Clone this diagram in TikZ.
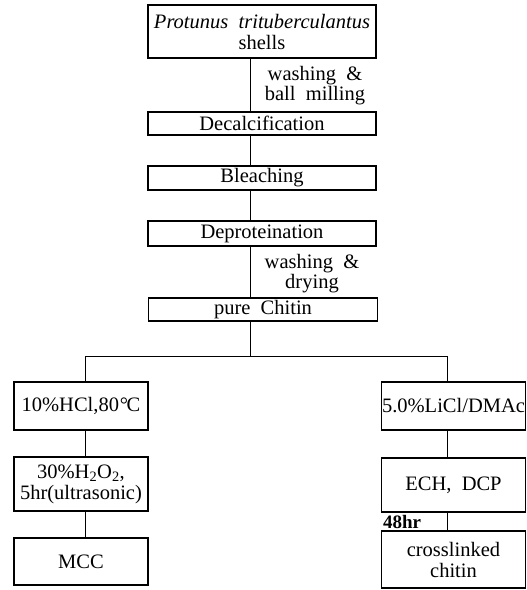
\documentclass[tikz,border=0pt]{standalone}
\usepackage{fontspec}
\setmainfont{Liberation Serif}
\begin{document}
\begin{tikzpicture}[x=1pt,y=-1pt,
  box/.style={draw, line width=1.6pt, inner sep=0pt, align=center,
    font=\fontsize{20.5}{21}\selectfont},
  conn/.style={line width=0.7pt},
  lbl/.style={inner sep=0pt, align=center, font=\fontsize{20.5}{20}\selectfont}]
\useasboundingbox (0,0) rectangle (527,590);
% main column
\node[box, minimum width=228pt, minimum height=53pt] (top) at (262,31.5)
  {{\itshape Protunus\ \ trituberculantus}\\shells};
\node[box, minimum width=228pt, minimum height=23pt] (decal) at (262,123.5) {Decalcification};
\node[box, minimum width=228pt, minimum height=24pt] (bleach) at (262,178) {Bleaching};
\node[box, minimum width=228pt, minimum height=25pt] (deprot) at (262,233.5) {Deproteination};
\node[box, minimum width=229pt, minimum height=23pt] (chitin) at (263,309.5) {pure\ \ Chitin};
% left column
\node[box, minimum width=134pt, minimum height=48pt] (hcl) at (81,406) {10\%HCl,80\kern1pt°\kern-1.5pt C};
\node[box, minimum width=134pt, minimum height=54pt] (hoo) at (81,484)
  {30\%H\textsubscript{2}O\textsubscript{2},\\5hr(ultrasonic)};
\node[box, minimum width=134pt, minimum height=47pt] (mcc) at (81,561.5) {MCC};
% right column
\node[box, minimum width=144pt, minimum height=48pt] (licl) at (453.5,406) {5.0\%LiCl/DMAc};
\node[box, minimum width=144pt, minimum height=54pt] (ech) at (453.5,485) {ECH,\ \ DCP};
\node[box, minimum width=144pt, minimum height=57pt] (cross) at (453.5,559.5) {crosslinked\\chitin};
% labels
\node[lbl] (l1) at (315,86) {washing\ \ \&\\ball\ \ milling};
\node[lbl] (l2) at (312,274) {washing\ \ \&\\drying};
\node[lbl, font=\bfseries\fontsize{19}{19}\selectfont] (l3) at (402,522) {48hr};
% connector coordinates
\coordinate (tx) at (250,0);
\coordinate (jm) at (250,356);
\coordinate (jl) at (85,356);
\coordinate (jr) at (447,356);
% connectors
\draw[conn] (top.south -| tx) -- (decal.north -| tx);
\draw[conn] (decal.south -| tx) -- (bleach.north -| tx);
\draw[conn] (bleach.south -| tx) -- (deprot.north -| tx);
\draw[conn] (deprot.south -| tx) -- (chitin.north -| tx);
\draw[conn] (chitin.south -| tx) -- (jm);
\draw[conn] (hcl.north -| jl) -- (jl) -- (jr) -- (licl.north -| jr);
\draw[conn] (hcl.south -| jl) -- (hoo.north -| jl);
\draw[conn] (hoo.south -| jl) -- (mcc.north -| jl);
\draw[conn] (licl.south -| jr) -- (ech.north -| jr);
\draw[conn] (ech.south -| jr) -- (cross.north -| jr);
\end{tikzpicture}
\end{document}
